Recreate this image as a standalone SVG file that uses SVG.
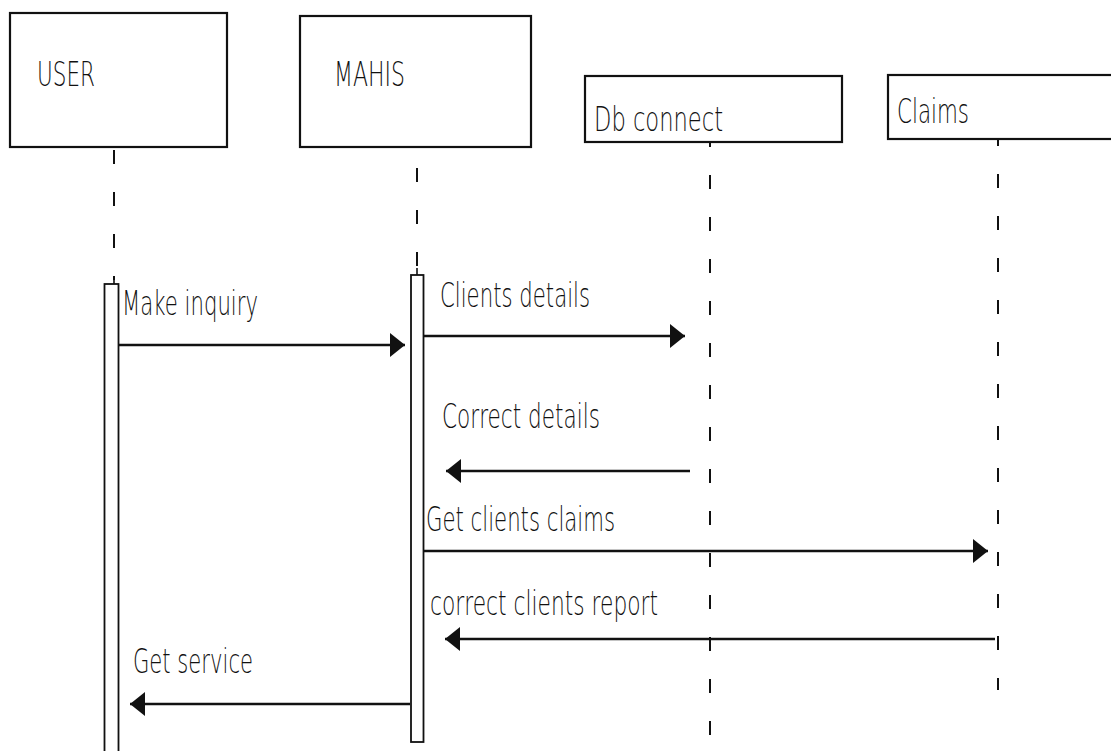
<svg xmlns="http://www.w3.org/2000/svg" width="1111" height="751" viewBox="0 0 1111 751">
  <style>
    .box { fill: #ffffff; stroke: #111111; stroke-width: 2.2; }
    .bar { fill: #ffffff; stroke: #111111; stroke-width: 1.8; }
    .life { stroke: #111111; stroke-width: 2; stroke-dasharray: 14 28; fill: none; }
    .msg { stroke: #111111; stroke-width: 2.6; fill: none; }
    .tick { stroke: #111111; stroke-width: 1.6; }
    text { font-family: "DejaVu Sans", "Liberation Sans", Arial, sans-serif; font-weight: 200; font-size: 34px; fill: #111111; }
  </style>
  <defs>
    <marker id="head" markerUnits="userSpaceOnUse" markerWidth="16" markerHeight="24" refX="15" refY="12" orient="auto">
      <path d="M0,0 L15,12 L0,24 Z" fill="#111111"/>
    </marker>
  </defs>

  <rect width="1111" height="751" fill="#ffffff"/>

  <!-- lifelines -->
  <g id="lifelines">
    <line class="life" x1="114" y1="150" x2="114" y2="280"/>
    <line class="life" x1="417" y1="168" x2="417" y2="272"/>
    <line class="life" x1="710" y1="143" x2="710" y2="740" stroke-dashoffset="-32"/>
    <line class="life" x1="998" y1="140" x2="998" y2="690" stroke-dashoffset="-34"/>
  </g>

  <!-- participants -->
  <g id="user">
    <rect class="box" x="10" y="13" width="217" height="134"/>
    <text x="37" y="86" textLength="58" lengthAdjust="spacingAndGlyphs">USER</text>
  </g>
  <g id="mahis">
    <rect class="box" x="300" y="16" width="231" height="131"/>
    <text x="334" y="86" textLength="71" lengthAdjust="spacingAndGlyphs">MAHIS</text>
  </g>
  <g id="db-connect">
    <rect class="box" x="585" y="76" width="257" height="66"/>
    <text x="594" y="131" textLength="129" lengthAdjust="spacingAndGlyphs">Db connect</text>
  </g>
  <g id="claims">
    <rect class="box" x="888" y="75" width="230" height="64"/>
    <text x="897" y="123" textLength="72" lengthAdjust="spacingAndGlyphs">Claims</text>
  </g>

  <!-- activation bars -->
  <g id="user-activation">
    <line class="tick" x1="114" y1="277" x2="114" y2="285"/>
    <rect class="bar" x="104.5" y="284" width="14" height="480"/>
  </g>
  <g id="mahis-activation">
    <line class="tick" x1="417" y1="268" x2="417" y2="276"/>
    <rect class="bar" x="411" y="275" width="12.5" height="467"/>
  </g>

  <!-- messages -->
  <g id="connectors">
    <line class="msg" x1="119" y1="345" x2="405" y2="345" marker-end="url(#head)"/>
    <line class="msg" x1="424" y1="336" x2="685" y2="336" marker-end="url(#head)"/>
    <line class="msg" x1="690" y1="471" x2="446" y2="471" marker-end="url(#head)"/>
    <line class="msg" x1="424" y1="551" x2="988" y2="551" marker-end="url(#head)"/>
    <line class="msg" x1="995" y1="639" x2="445" y2="639" marker-end="url(#head)"/>
    <line class="msg" x1="410" y1="704" x2="130" y2="704" marker-end="url(#head)"/>
  </g>

  <!-- message labels -->
  <g id="labels">
    <text x="122" y="315" textLength="136" lengthAdjust="spacingAndGlyphs">Make inquiry</text>
    <text x="440" y="307" textLength="150" lengthAdjust="spacingAndGlyphs">Clients details</text>
    <text x="442" y="428" textLength="158" lengthAdjust="spacingAndGlyphs">Correct details</text>
    <text x="426" y="531" textLength="189" lengthAdjust="spacingAndGlyphs">Get clients claims</text>
    <text x="430" y="615" textLength="228" lengthAdjust="spacingAndGlyphs">correct clients report</text>
    <text x="133" y="673" textLength="120" lengthAdjust="spacingAndGlyphs">Get service</text>
  </g>
</svg>
